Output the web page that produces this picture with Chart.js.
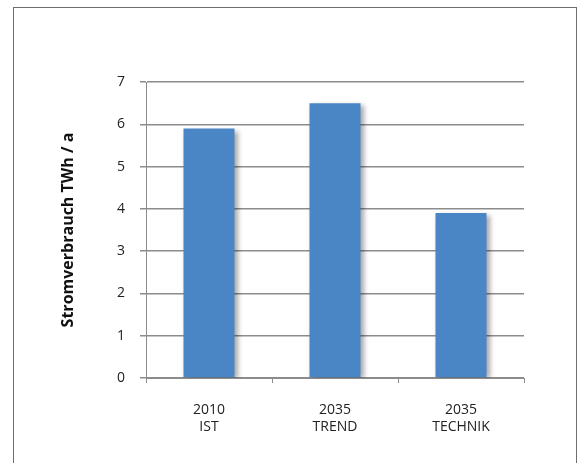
<!DOCTYPE html>
<html>
<head>
<meta charset="utf-8">
<script src="https://cdn.jsdelivr.net/npm/chart.js@4"></script>
<style>
  html, body { margin: 0; padding: 0; background: #fff; }
  #frame { position: absolute; left: 13px; top: 7px; width: 564px; height: 460px; border: 1px solid #6e6e6e; border-bottom: none; box-sizing: border-box; }
  #wrap { position: absolute; left: 0; top: 0; width: 584px; height: 463px; }
</style>
</head>
<body>
<div id="frame"></div>
<div id="wrap"><canvas id="stromChart" width="584" height="463"></canvas></div>
<script>
// data
const categories = [["2010", "IST"], ["2035", "TREND"], ["2035", "TECHNIK"]];
const verbrauch = [5.9, 6.5, 3.9];
const yTicks = [0, 1, 2, 3, 4, 5, 6, 7];

// soft drop shadow behind the bars
const barShadow = {
    id: "barShadow",
    beforeDatasetsDraw(chart) {
        const ctx = chart.ctx;
        ctx.save();
        ctx.shadowColor = "rgba(0,0,0,0.35)";
        ctx.shadowOffsetX = 3;
        ctx.shadowOffsetY = 2;
        ctx.shadowBlur = 5;
    },
    afterDatasetsDraw(chart) {
        chart.ctx.restore();
    }
};

const ctx = document.getElementById("stromChart").getContext("2d");

new Chart(ctx, {
    type: "bar",
    data: {
        labels: categories,
        datasets: [{
            label: "Stromverbrauch",
            data: verbrauch,
            backgroundColor: "#4a86c6",
            borderWidth: 0,
            categoryPercentage: 1,
            barPercentage: 0.405
        }]
    },
    plugins: [barShadow],
    options: {
        responsive: false,
        animation: false,
        layout: { padding: { left: 59, top: 82, right: 60, bottom: 25 } },
        plugins: {
            legend: { display: false },
            tooltip: { enabled: false }
        },
        scales: {
            x: {
                afterFit: s => { s.height = 60; },
                grid: {
                    offset: true,
                    drawOnChartArea: false,
                    tickLength: 5,
                    color: "#8c8c8c"
                },
                border: { color: "#8c8c8c", width: 1 },
                ticks: {
                    padding: 18,
                    color: "#222",
                    font: { family: "Open Sans", size: 14, lineHeight: 1.25 }
                }
            },
            y: {
                min: 0,
                max: 7,
                afterFit: s => { s.width = 87; },
                afterBuildTicks: s => { s.ticks = yTicks.map(v => ({ value: v })); },
                grid: {
                    tickLength: 6,
                    lineWidth: 1.5,
                    color: "#8c8c8c"
                },
                border: { color: "#8c8c8c", width: 1 },
                ticks: {
                    padding: 15,
                    color: "#222",
                    font: { family: "Open Sans", size: 14 }
                },
                title: {
                    display: true,
                    text: "Stromverbrauch TWh / a",
                    color: "#111",
                    padding: 0,
                    font: { family: "Open Sans", size: 16, weight: "bold" }
                }
            }
        }
    }
});
</script>
</body>
</html>
